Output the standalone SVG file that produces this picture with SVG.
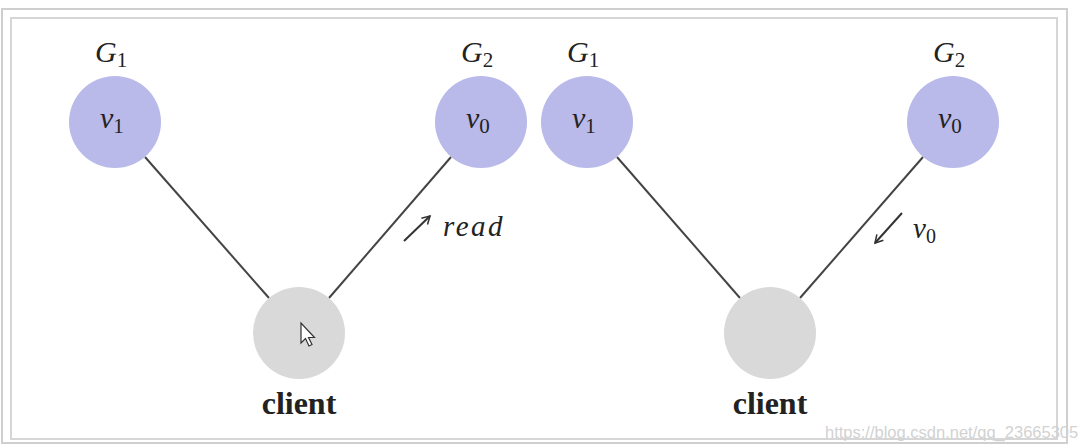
<svg xmlns="http://www.w3.org/2000/svg" width="1078" height="448" viewBox="0 0 1078 448">
<style>
.g{fill:#b9b9ea}
.c{fill:#d9d9d9}
.m{font-family:"Liberation Serif",serif;font-style:italic;fill:#222}
.s{font-family:"Liberation Serif",serif;font-style:normal;fill:#222}
.lbl{font-family:"Liberation Serif",serif;font-weight:bold;fill:#222;font-size:32px}
.e{stroke:#444;stroke-width:2;fill:none}
</style>
<defs>
<marker id="ah" viewBox="0 0 10 10" refX="8" refY="5" markerWidth="11" markerHeight="11" orient="auto" markerUnits="userSpaceOnUse">
<path d="M1,1 L8,5 L1,9" fill="none" stroke="#333" stroke-width="1.4"/>
</marker>
</defs>
<rect width="1078" height="448" fill="#fff"/>
<rect x="2" y="9" width="1065" height="434" fill="none" stroke="#cfcfcf" stroke-width="2"/>
<rect x="11" y="18" width="1046" height="421" fill="none" stroke="#d6d6d6" stroke-width="2"/>
<g id="connectors">
<line class="e" x1="145" y1="157" x2="269" y2="298"/>
<line class="e" x1="451" y1="157" x2="329" y2="298"/>
<line class="e" x1="617" y1="157" x2="740" y2="298"/>
<line class="e" x1="923" y1="157" x2="800" y2="298"/>
<line x1="404" y1="241" x2="430" y2="216" stroke="#333" stroke-width="2" marker-end="url(#ah)"/>
<text class="m" x="443" y="236" font-size="29" letter-spacing="2.5">read</text>
<line x1="902" y1="213" x2="875" y2="243" stroke="#333" stroke-width="2" marker-end="url(#ah)"/>
<text class="m" x="913" y="238" font-size="29">v<tspan class="s" font-size="20" dy="5">0</tspan></text>
</g>
<g id="left-v1">
<circle class="g" cx="115" cy="122" r="46"/>
<text class="m" x="100" y="128" font-size="30">v<tspan class="s" font-size="21" dy="5">1</tspan></text>
<text class="m" x="95" y="62" font-size="30">G<tspan class="s" font-size="21" dy="5">1</tspan></text>
</g>
<g id="left-v0">
<circle class="g" cx="481" cy="122" r="46"/>
<text class="m" x="466" y="128" font-size="30">v<tspan class="s" font-size="21" dy="5">0</tspan></text>
<text class="m" x="461" y="62" font-size="30">G<tspan class="s" font-size="21" dy="5">2</tspan></text>
</g>
<g id="left-client">
<circle class="c" cx="299" cy="333" r="46"/>
<text class="lbl" x="299" y="414" text-anchor="middle">client</text>
<path d="M301,323 L301,343 L305.5,338.5 L309,346 L312,344.5 L308.5,337.5 L314.5,337.5 Z" fill="#fff" stroke="#333" stroke-width="1.2"/>
</g>
<g id="right-v1">
<circle class="g" cx="587" cy="122" r="46"/>
<text class="m" x="572" y="128" font-size="30">v<tspan class="s" font-size="21" dy="5">1</tspan></text>
<text class="m" x="567" y="62" font-size="30">G<tspan class="s" font-size="21" dy="5">1</tspan></text>
</g>
<g id="right-v0">
<circle class="g" cx="953" cy="122" r="46"/>
<text class="m" x="938" y="128" font-size="30">v<tspan class="s" font-size="21" dy="5">0</tspan></text>
<text class="m" x="933" y="62" font-size="30">G<tspan class="s" font-size="21" dy="5">2</tspan></text>
</g>
<g id="right-client">
<circle class="c" cx="770" cy="333" r="46"/>
<text class="lbl" x="770" y="414" text-anchor="middle">client</text>
</g>
<text x="825" y="438" font-family="Liberation Sans,sans-serif" font-size="16.5" fill="#d2d2d2">https://blog.csdn.net/qq_23665305</text>
</svg>
